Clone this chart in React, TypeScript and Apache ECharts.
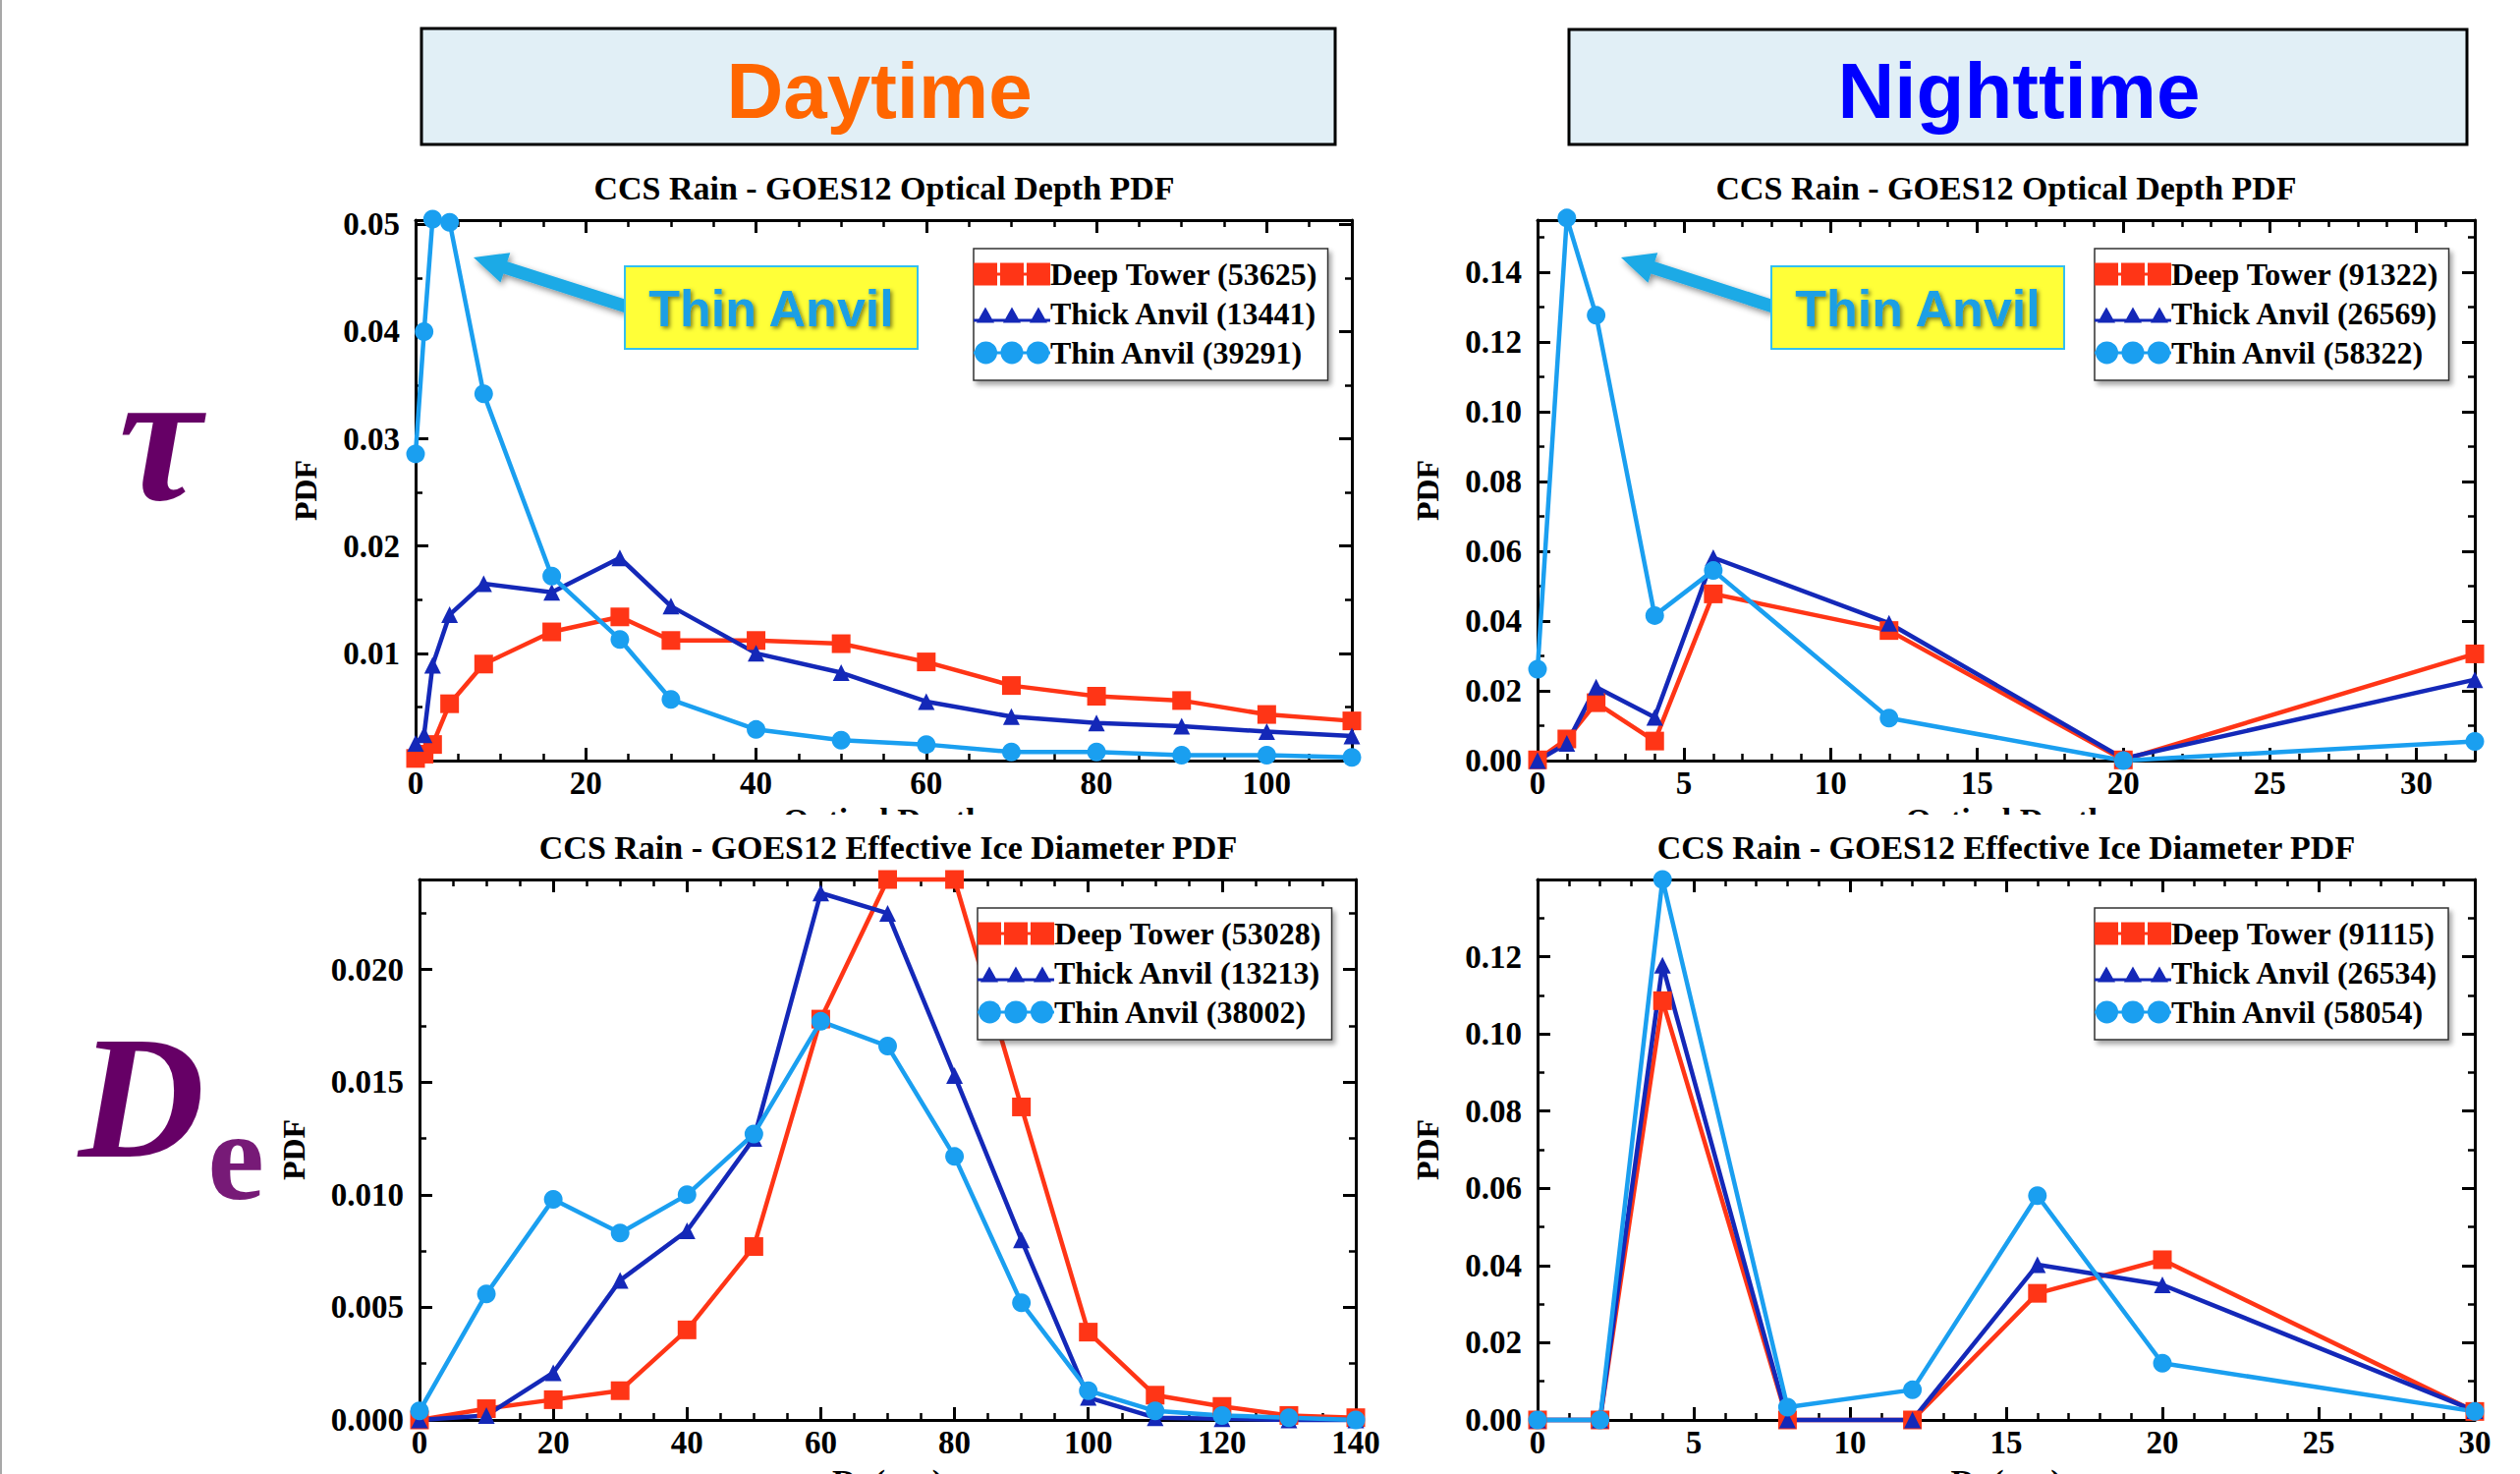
import { useEffect, useRef } from "react";
import * as echarts from "echarts";

const SERIF = '"Liberation Serif", "Times New Roman", serif';
const SANS = '"Liberation Sans", Arial, sans-serif';

const C_DEEP = "#ff3516";
const C_THICK = "#1428b8";
const C_THIN = "#1a9ff0";

// ---------- Daytime optical depth ----------
const tauDayX = [0, 1, 2, 4, 8, 16, 24, 30, 40, 50, 60, 70, 80, 90, 100, 110];
const tauDayDeep = [0.0002, 0.0006, 0.0015, 0.0053, 0.009, 0.012, 0.0134, 0.0112, 0.0112, 0.0109, 0.0092, 0.007, 0.006, 0.0056, 0.0043, 0.0037];
const tauDayThick = [0.0016, 0.0024, 0.0089, 0.0136, 0.0165, 0.0157, 0.0189, 0.0144, 0.01, 0.0082, 0.0055, 0.0041, 0.0035, 0.0032, 0.0027, 0.0023];
const tauDayThin = [0.0286, 0.04, 0.0505, 0.0502, 0.0342, 0.0172, 0.0113, 0.0057, 0.0029, 0.0019, 0.0015, 0.0008, 0.0008, 0.0005, 0.0005, 0.0003];
const tauDayNames = ["Deep Tower (53625)", "Thick Anvil (13441)", "Thin Anvil (39291)"];

// ---------- Nighttime optical depth ----------
const tauNightX = [0, 1, 2, 4, 6, 12, 20, 32];
const tauNightDeep = [0.0002, 0.0062, 0.0166, 0.0056, 0.0478, 0.0373, 0.0002, 0.0306];
const tauNightThick = [0.0, 0.0049, 0.0211, 0.0124, 0.0582, 0.0394, 0.0006, 0.0232];
const tauNightThin = [0.0262, 0.1556, 0.1277, 0.0416, 0.0545, 0.0122, 0.0, 0.0055];
const tauNightNames = ["Deep Tower (91322)", "Thick Anvil (26569)", "Thin Anvil (58322)"];

// ---------- Daytime effective ice diameter ----------
const deDayX = [0, 10, 20, 30, 40, 50, 60, 70, 80, 90, 100, 110, 120, 130, 140];
const deDayDeep = [0.0, 0.0005, 0.0009, 0.0013, 0.004, 0.0077, 0.0178, 0.024, 0.024, 0.0139, 0.0039, 0.0011, 0.0006, 0.0002, 0.0001];
const deDayThick = [0.0, 0.0002, 0.0021, 0.0062, 0.0084, 0.0125, 0.0234, 0.0225, 0.0153, 0.008, 0.001, 0.0001, 0.00005, 0.0, 0.0];
const deDayThin = [0.0004, 0.0056, 0.0098, 0.0083, 0.01, 0.0127, 0.0177, 0.0166, 0.0117, 0.0052, 0.0013, 0.0004, 0.0002, 0.0001, 0.0];
const deDayNames = ["Deep Tower (53028)", "Thick Anvil (13213)", "Thin Anvil (38002)"];

// ---------- Nighttime effective ice diameter ----------
const deNightX = [0, 2, 4, 8, 12, 16, 20, 30];
const deNightDeep = [0, 0, 0.1086, 0, 0, 0.0328, 0.0415, 0.0022];
const deNightThick = [0, 0, 0.1178, 0, 0, 0.0402, 0.035, 0.0024];
const deNightThin = [0, 0, 0.14, 0.0033, 0.0078, 0.0581, 0.0147, 0.0022];
const deNightNames = ["Deep Tower (91115)", "Thick Anvil (26534)", "Thin Anvil (58054)"];

const titleTau = "CCS Rain - GOES12 Optical Depth PDF";
const titleDe = "CCS Rain - GOES12 Effective Ice Diameter PDF";

const CORNERS = "M0,0h0.01v0.01h-0.01z M78,23h0.01v0.01h-0.01z ";
const ICON_SQ = "path://" + CORNERS + "M0,0h24v23h-24z M27,0h24v23h-24z M54,0h24v23h-24z M0,10h78v3h-78z";
const ICON_TRI = "path://" + CORNERS + "M3,21L12,5L21,21z M30,21L39,5L48,21z M57,21L66,5L75,21z M0,17h78v3h-78z";
const ICON_CIR = "path://" + CORNERS + "M1,11.5a11.5,11.5 0 1,1 23,0a11.5,11.5 0 1,1 -23,0z M27.5,11.5a11.5,11.5 0 1,1 23,0a11.5,11.5 0 1,1 -23,0z M54,11.5a11.5,11.5 0 1,1 23,0a11.5,11.5 0 1,1 -23,0z M0,10h78v3h-78z";

type PanelCfg = {
  grid: { left: number; top: number; width: number; height: number };
  xs: number[];
  deep: number[];
  thick: number[];
  thin: number[];
  names: string[];
  xMax: number;
  xMajor: number;
  xMinor: number;
  yMax: number;
  yMajor: number;
  yMinor: number;
  yDigits: number;
  hideZeroY: boolean;
  yLabelMax: number;
  xName: string;
  xNameGap: number;
  xNameRich?: any;
  yNameGap: number;
  legendPos: { left: number; top: number };
};

const isMult = (v: number, step: number) => Math.abs(v / step - Math.round(v / step)) < 1e-6;

function buildPanel(i: number, p: PanelCfg) {
  const majorTick = { show: true, inside: true, length: 13, lineStyle: { color: "#000", width: 3 } };
  const minorTick = { show: true, inside: true, length: 7, lineStyle: { color: "#000", width: 2.5 } };
  const line = { show: true, onZero: false, lineStyle: { color: "#000", width: 3 } };
  const noLine = { show: false, onZero: false };
  const labelBase = { fontSize: 33, fontFamily: SERIF, fontWeight: "bold", color: "#000" };
  const common = { type: "value", gridIndex: i, splitLine: { show: false }, min: 0 };

  const xAxes = [
    {
      ...common, position: "bottom", max: p.xMax, interval: p.xMajor, axisLine: line, axisTick: majorTick,
      axisLabel: { ...labelBase, margin: 6, formatter: (v: number) => (isMult(v, p.xMajor) && v < p.xMax + 1e-9 && !(v > p.xMax - 1e-9 && !isMult(p.xMax, p.xMajor)) ? String(Math.round(v)) : "") },
      name: p.xName, nameLocation: "middle", nameGap: p.xNameGap, nameMoveOverlap: false,
      nameTextStyle: { fontSize: 34, lineHeight: 34, fontFamily: SERIF, fontWeight: "bold", color: "#000", rich: p.xNameRich },
    },
    { ...common, position: "bottom", max: p.xMax, interval: p.xMinor, axisLine: noLine, axisTick: minorTick, axisLabel: { show: false } },
    { ...common, position: "top", max: p.xMax, interval: p.xMajor, axisLine: line, axisTick: majorTick, axisLabel: { show: false } },
    { ...common, position: "top", max: p.xMax, interval: p.xMinor, axisLine: noLine, axisTick: minorTick, axisLabel: { show: false } },
  ];
  const yAxes = [
    {
      ...common, position: "left", max: p.yMax, interval: p.yMajor, axisLine: line, axisTick: majorTick,
      axisLabel: {
        ...labelBase, margin: 16,
        formatter: (v: number) => {
          if (!isMult(v, p.yMajor)) return "";
          if (p.hideZeroY && v < 1e-12) return "";
          if (v > p.yLabelMax + 1e-9) return "";
          return v.toFixed(p.yDigits);
        },
      },
      name: "PDF", nameLocation: "middle", nameGap: p.yNameGap, nameRotate: 90, nameMoveOverlap: false,
      nameTextStyle: { fontSize: 32, fontFamily: SERIF, fontWeight: "bold", color: "#000" },
    },
    { ...common, position: "left", max: p.yMax, interval: p.yMinor, axisLine: noLine, axisTick: minorTick, axisLabel: { show: false } },
    { ...common, position: "right", max: p.yMax, interval: p.yMajor, axisLine: line, axisTick: majorTick, axisLabel: { show: false } },
    { ...common, position: "right", max: p.yMax, interval: p.yMinor, axisLine: noLine, axisTick: minorTick, axisLabel: { show: false } },
  ];

  const mk = (name: string, ys: number[], color: string, symbol: string, size: number) => ({
    type: "line",
    name,
    xAxisIndex: 4 * i,
    yAxisIndex: 4 * i,
    data: p.xs.map((x, k) => [x, ys[k]]),
    symbol,
    symbolSize: size,
    showSymbol: true,
    clip: false,
    silent: true,
    lineStyle: { color, width: 4.5 },
    itemStyle: { color, borderWidth: 0 },
    emphasis: { disabled: true },
  });

  const series = [
    mk(p.names[0], p.deep, C_DEEP, "rect", 19),
    mk(p.names[1], p.thick, C_THICK, "triangle", 17),
    mk(p.names[2], p.thin, C_THIN, "circle", 19),
  ];

  const legend = {
    orient: "vertical",
    left: p.legendPos.left,
    top: p.legendPos.top,
    data: [
      { name: p.names[0], icon: ICON_SQ },
      { name: p.names[1], icon: ICON_TRI },
      { name: p.names[2], icon: ICON_CIR },
    ],
    itemWidth: 78,
    itemHeight: 23,
    itemGap: 8,
    padding: [10, 10, 12, 0],
    backgroundColor: "#fff",
    borderColor: "#333",
    borderWidth: 1.5,
    shadowBlur: 5,
    shadowColor: "rgba(0,0,0,0.35)",
    shadowOffsetX: 3,
    shadowOffsetY: 4,
    selectedMode: false,
    itemStyle: { borderWidth: 0 },
    textStyle: { fontFamily: SERIF, fontWeight: "bold", fontSize: 32, color: "#000", padding: [0, 0, 0, -5] },
  };

  const grid = { ...p.grid, containLabel: false, outerBoundsMode: "none" };
  return { grid, xAxes, yAxes, series, legend };
}

const panels: PanelCfg[] = [
  {
    grid: { left: 423, top: 224, width: 953, height: 550 },
    xs: tauDayX, deep: tauDayDeep, thick: tauDayThick, thin: tauDayThin, names: tauDayNames,
    xMax: 110, xMajor: 20, xMinor: 5, yMax: 0.0504, yMajor: 0.01, yMinor: 0.005, yDigits: 2,
    hideZeroY: true, yLabelMax: 0.05, xName: "Optical Depth", xNameGap: 43, yNameGap: 96,
    legendPos: { left: 991, top: 253 },
  },
  {
    grid: { left: 1565, top: 224, width: 954, height: 550 },
    xs: tauNightX, deep: tauNightDeep, thick: tauNightThick, thin: tauNightThin, names: tauNightNames,
    xMax: 32, xMajor: 5, xMinor: 1, yMax: 0.155, yMajor: 0.02, yMinor: 0.01, yDigits: 2,
    hideZeroY: false, yLabelMax: 0.14, xName: "Optical Depth", xNameGap: 43, yNameGap: 96,
    legendPos: { left: 2132, top: 253 },
  },
  {
    grid: { left: 427, top: 895, width: 953, height: 550 },
    xs: deDayX, deep: deDayDeep, thick: deDayThick, thin: deDayThin, names: deDayNames,
    xMax: 140, xMajor: 20, xMinor: 5, yMax: 0.024, yMajor: 0.005, yMinor: 0.0025, yDigits: 3,
    hideZeroY: false, yLabelMax: 0.02, xName: "{d|D}{s|e} (μm)", xNameGap: 45, yNameGap: 112,
    xNameRich: { d: { fontSize: 34, fontFamily: SERIF, fontWeight: "bold" }, s: { fontSize: 22, fontFamily: SERIF, fontWeight: "bold", padding: [14, 0, 0, 0] } },
    legendPos: { left: 995, top: 924 },
  },
  {
    grid: { left: 1565, top: 895, width: 954, height: 550 },
    xs: deNightX, deep: deNightDeep, thick: deNightThick, thin: deNightThin, names: deNightNames,
    xMax: 30, xMajor: 5, xMinor: 1, yMax: 0.14, yMajor: 0.02, yMinor: 0.01, yDigits: 2,
    hideZeroY: false, yLabelMax: 0.12, xName: "{d|D}{s|e} (μm)", xNameGap: 45, yNameGap: 96,
    xNameRich: { d: { fontSize: 34, fontFamily: SERIF, fontWeight: "bold" }, s: { fontSize: 22, fontFamily: SERIF, fontWeight: "bold", padding: [14, 0, 0, 0] } },
    legendPos: { left: 2132, top: 924 },
  },
];

function arrowPoints(tx: number, ty: number, ex: number, ey: number, headLen: number, headHalf: number, shaftHalf: number) {
  const dx = ex - tx, dy = ey - ty;
  const L = Math.hypot(dx, dy);
  const ux = dx / L, uy = dy / L;
  const nx = -uy, ny = ux;
  const bx = tx + ux * headLen, by = ty + uy * headLen;
  return [
    [tx, ty],
    [bx + nx * headHalf, by + ny * headHalf],
    [bx + nx * shaftHalf, by + ny * shaftHalf],
    [ex + nx * shaftHalf, ey + ny * shaftHalf],
    [ex - nx * shaftHalf, ey - ny * shaftHalf],
    [bx - nx * shaftHalf, by - ny * shaftHalf],
    [bx - nx * headHalf, by - ny * headHalf],
  ];
}

function txt(x: number, y: number, text: string, fontSize: number, fontFamily: string, fill: string, extra: any = {}, z = 101) {
  return {
    type: "text",
    x,
    y,
    z,
    silent: true,
    style: {
      text,
      fontSize,
      fontFamily,
      fontWeight: "bold",
      fill,
      align: "center",
      verticalAlign: "middle",
      textAlign: "center",
      textVerticalAlign: "middle",
      ...extra,
    },
  };
}

function annotation(boxX: number, tipX: number) {
  return [
    {
      type: "polygon",
      z: 102,
      silent: true,
      shape: { points: arrowPoints(tipX, 262, boxX + 2, 312, 34, 16, 6.5) },
      style: { fill: "#1eaae6", shadowBlur: 6, shadowColor: "rgba(0,0,0,0.45)", shadowOffsetX: 2, shadowOffsetY: 3 },
    },
    {
      type: "rect",
      z: 102,
      silent: true,
      shape: { x: boxX, y: 271, width: 298, height: 84 },
      style: { fill: "#ffff38", stroke: "#33c0f0", lineWidth: 2 },
    },
    txt(boxX + 149, 314, "Thin Anvil", 52, SANS, "#1a9fe4", {
      textShadowColor: "rgba(0,0,0,0.5)", textShadowBlur: 4, textShadowOffsetX: 2, textShadowOffsetY: 2,
    }, 103),
  ];
}

function buildOption() {
  const built = panels.map((p, i) => buildPanel(i, p));
  const graphic = [
    { type: "rect", z: 100, silent: true, shape: { x: 0, y: 0, width: 2, height: 1500 }, style: { fill: "#a8a8a8" } },
    { type: "rect", z: 100, silent: true, shape: { x: 429, y: 29, width: 930, height: 118 }, style: { fill: "#e1eff6", stroke: "#000", lineWidth: 3 } },
    { type: "rect", z: 100, silent: true, shape: { x: 1597, y: 30, width: 914, height: 117 }, style: { fill: "#e1eff6", stroke: "#000", lineWidth: 3 } },
    txt(895, 92, "Daytime", 80, SANS, "#ff6600"),
    txt(2055, 92, "Nighttime", 80, SANS, "#0000ff"),
    // covers for the clipped x-axis names of the upper panels (titles are drawn above them)
    { type: "rect", z: 100, silent: true, shape: { x: 760, y: 829, width: 280, height: 44 }, style: { fill: "#fff" } },
    { type: "rect", z: 100, silent: true, shape: { x: 1900, y: 829, width: 280, height: 44 }, style: { fill: "#fff" } },
    txt(900, 191, titleTau, 34, SERIF, "#000"),
    txt(2042, 191, titleTau, 34, SERIF, "#000"),
    txt(904, 862, titleDe, 34, SERIF, "#000"),
    txt(2042, 862, titleDe, 34, SERIF, "#000"),
    txt(163, 444, "τ", 190, SERIF, "#660066", { fontStyle: "italic" }),
    txt(144, 1117, "D", 178, SERIF, "#660066", { fontStyle: "italic" }),
    txt(240, 1176, "e", 130, SERIF, "#771a77"),
    ...annotation(636, 482),
    ...annotation(1803, 1650),
  ];

  return {
    animation: false,
    backgroundColor: "#fff",
    grid: built.map((b) => b.grid),
    xAxis: built.flatMap((b) => b.xAxes),
    yAxis: built.flatMap((b) => b.yAxes),
    series: built.flatMap((b) => b.series),
    legend: built.map((b) => b.legend),
    graphic: { elements: graphic },
  };
}

export default function App() {
  const ref = useRef<HTMLDivElement>(null);
  useEffect(() => {
    if (!ref.current) return;
    const chart = echarts.init(ref.current, undefined, { renderer: "svg" });
    chart.setOption(buildOption() as any);
    return () => chart.dispose();
  }, []);
  return (
    <div
      ref={ref}
      style={{ position: "fixed", left: 0, top: 0, width: 2565, height: 1500, background: "#fff" }}
    />
  );
}
